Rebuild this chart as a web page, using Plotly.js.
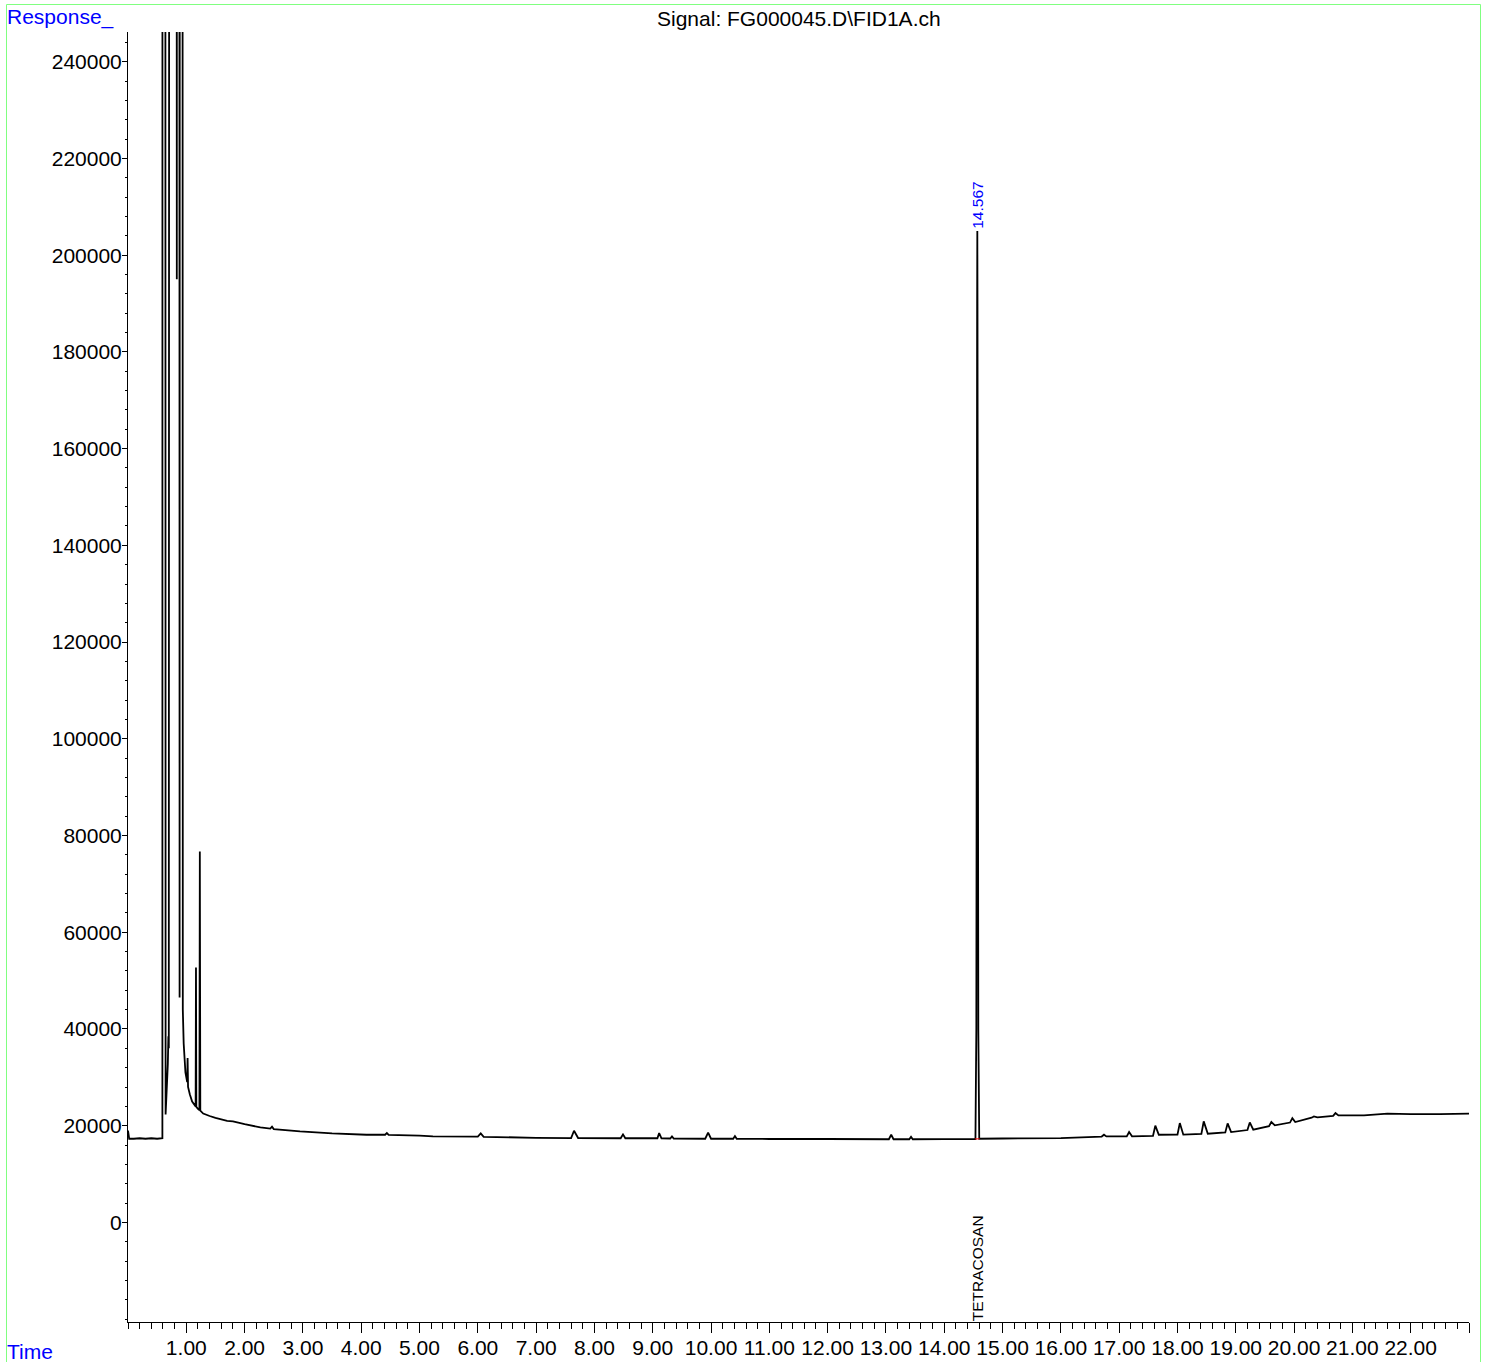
<!DOCTYPE html>
<html>
<head>
<meta charset="utf-8">
<script src="https://cdn.plot.ly/plotly-3.0.1.min.js"></script>
<style>
  html, body { margin: 0; padding: 0; background: #ffffff; }
  #chart { width: 1485px; height: 1362px; }
</style>
</head>
<body>
<div id="chart"></div>
<script>
// Retention time (min)
const retentionTimes = [
  0.000, 0.020, 0.100, 0.200, 0.300, 0.400, 0.500, 0.590,
  0.598, 0.645, 0.683, 0.693, 0.700, 0.770, 0.837, 0.860, 0.885, 0.905,
  0.940, 0.955, 0.985, 1.015, 1.022, 1.030, 1.060, 1.100, 1.160, 1.166, 1.172,
  1.200, 1.225, 1.232, 1.240, 1.290, 1.400, 1.500, 1.700, 1.800, 2.000,
  2.270, 2.440, 2.470, 2.500, 2.950, 3.500, 4.090, 4.410, 4.440, 4.470,
  5.000, 5.230, 6.000, 6.050, 6.100, 7.000, 7.600, 7.650, 7.720,
  8.450, 8.490, 8.530, 9.080, 9.110, 9.150, 9.300, 9.330, 9.360, 9.900, 9.950, 10.000,
  10.380, 10.410, 10.440, 11.000, 12.000, 13.050, 13.090, 13.130, 13.400, 13.430, 13.460, 14.000, 14.535,
  14.550, 14.558, 14.564, 14.567, 14.570, 14.576, 14.584, 14.600,
  15.000, 16.000, 16.700, 16.740, 16.780, 17.130, 17.170, 17.220,
  17.580, 17.620, 17.680, 18.000, 18.040, 18.100, 18.410, 18.450, 18.520,
  18.820, 18.860, 18.920, 19.200, 19.240, 19.300, 19.570, 19.610, 19.670,
  19.930, 19.970, 20.020, 20.300, 20.340, 20.400, 20.670, 20.710, 20.760,
  21.200, 21.600, 22.000, 22.500, 23.000
];
// Detector response (off-scale apexes estimated)
const responses = [
  19000, 17300, 17300, 17400, 17300, 17400, 17300, 17400,
  3000000, 22300, 32700, 38500, 36000, 3000000, 195000, 2000000, 46500, 2000000,
  44000, 37000, 31000, 29000, 34000, 28000, 26500, 25000, 24000, 52700, 23900,
  23500, 23200, 76700, 23100, 22500, 22000, 21600, 21000, 20900, 20300,
  19650, 19400, 19800, 19300, 18820, 18400, 18130, 18130, 18470, 18100,
  17930, 17790, 17750, 18400, 17700, 17500, 17450, 18960, 17450,
  17400, 18200, 17400, 17400, 18470, 17400, 17350, 17800, 17350, 17300, 18550, 17300,
  17300, 17850, 17300, 17250, 17250, 17200, 18130, 17200, 17200, 17700, 17200, 17230, 17250,
  40000, 120000, 190000, 205000, 190000, 120000, 40000, 17300,
  17350, 17440, 17750, 18130, 17790, 17800, 18680, 17800,
  17900, 20000, 18130, 18150, 20540, 18150, 18300, 20890, 18340,
  18600, 20480, 18680, 19100, 20680, 19170, 19900, 20750, 20060,
  20650, 21570, 20750, 21650, 21920, 21710, 22050, 22610, 22130,
  22130, 22500, 22400, 22400, 22500
];
// Integration baseline under the labelled peak
const baselineTimes = [14.525, 14.605];
const baselineValues = [17250, 17300];

// Labelled peak
const peakTime = 14.567;
const peakApex = 205000;
const peakRtLabel = "14.567";
const peakName = "TETRACOSAN";

// Axis ticks
const xTickValues = [1,2,3,4,5,6,7,8,9,10,11,12,13,14,15,16,17,18,19,20,21,22,23];
const xTickLabels = ["1.00","2.00","3.00","4.00","5.00","6.00","7.00","8.00","9.00","10.00","11.00",
  "12.00","13.00","14.00","15.00","16.00","17.00","18.00","19.00","20.00","21.00","22.00",""];
const yTickValues = [0,20000,40000,60000,80000,100000,120000,140000,160000,180000,200000,220000,240000];
const yTickLabels = ["0","20000","40000","60000","80000","100000","120000","140000","160000","180000","200000","220000","240000"];

const titleText = "Signal: FG000045.D\\FID1A.ch";
const yLabel = "Response_";
const xLabel = "Time";

const FONT = "Liberation Sans, Arial, Helvetica, sans-serif";

const traces = [
  {
    x: retentionTimes, y: responses, type: "scatter", mode: "lines",
    line: { color: "#000000", width: 1.8, simplify: false },
    hoverinfo: "skip", showlegend: false
  },
  {
    x: baselineTimes, y: baselineValues, type: "scatter", mode: "lines",
    line: { color: "#ff0000", width: 1 },
    hoverinfo: "skip", showlegend: false
  }
];

const L = 128, R = 16, T = 32, B = 40;
const PW = 1485 - L - R, PH = 1362 - T - B;
const px = (p) => (p - L) / PW;          // pixel x -> paper
const py = (p) => (1362 - B - p) / PH;   // pixel y -> paper

const layout = {
  width: 1485, height: 1362,
  margin: { l: L, r: R, t: T, b: B, pad: 0 },
  paper_bgcolor: "#ffffff", plot_bgcolor: "#ffffff",
  font: { family: FONT, size: 21, color: "#000000" },
  showlegend: false,
  xaxis: {
    range: [0, 23], showgrid: false, zeroline: false,
    showline: true, linecolor: "#000000", linewidth: 1,
    ticks: "outside", ticklen: 10, tickwidth: 1, tickcolor: "#000000",
    tickmode: "array", tickvals: xTickValues, ticktext: xTickLabels,
    ticklabelstandoff: -3,
    tickfont: { family: FONT, size: 21, color: "#000000" },
    minor: { tickmode: "linear", tick0: 0, dtick: 0.2, ticks: "outside", ticklen: 6, tickcolor: "#000000", tickwidth: 1, showgrid: false },
    fixedrange: true
  },
  yaxis: {
    range: [-20590, 246140], showgrid: false, zeroline: false,
    showline: true, linecolor: "#000000", linewidth: 1,
    ticks: "outside", ticklen: 5, tickwidth: 1, tickcolor: "#000000",
    tickmode: "array", tickvals: yTickValues, ticktext: yTickLabels,
    ticklabelstandoff: -4,
    tickfont: { family: FONT, size: 21, color: "#000000" },
    minor: { tickmode: "linear", tick0: 0, dtick: 4000, ticks: "outside", ticklen: 2, tickcolor: "#000000", tickwidth: 1, showgrid: false },
    fixedrange: true
  },
  shapes: [
    { type: "rect", xref: "paper", yref: "paper",
      x0: px(6.5), x1: px(1480.5), y0: py(1375), y1: py(4.5),
      line: { color: "#80ff80", width: 1 }, fillcolor: "rgba(0,0,0,0)", layer: "below" }
  ],
  annotations: [
    { text: titleText, xref: "paper", yref: "paper", x: 0.5, y: py(19),
      xanchor: "center", yanchor: "middle", showarrow: false,
      font: { family: FONT, size: 21, color: "#000000" } },
    { text: yLabel, xref: "paper", yref: "paper", x: px(5), y: py(17),
      xanchor: "left", yanchor: "middle", showarrow: false,
      font: { family: FONT, size: 21, color: "#0000ff" } },
    { text: xLabel, xref: "paper", yref: "paper", x: px(5), y: py(1351),
      xanchor: "left", yanchor: "middle", showarrow: false,
      font: { family: FONT, size: 21, color: "#0000ff" } },
    { text: peakRtLabel, xref: "x", yref: "y", x: peakTime, y: peakApex,
      xanchor: "center", yanchor: "bottom", textangle: -90, showarrow: false,
      font: { family: FONT, size: 15.5, color: "#0000ff" }, borderpad: 0, yshift: 1 },
    { text: peakName, xref: "x", yref: "paper", x: peakTime, y: 0,
      xanchor: "center", yanchor: "bottom", textangle: -90, showarrow: false,
      font: { family: FONT, size: 15.5, color: "#000000" }, borderpad: 0 }
  ]
};

Plotly.newPlot("chart", traces, layout, { displayModeBar: false, staticPlot: true });
</script>
</body>
</html>
